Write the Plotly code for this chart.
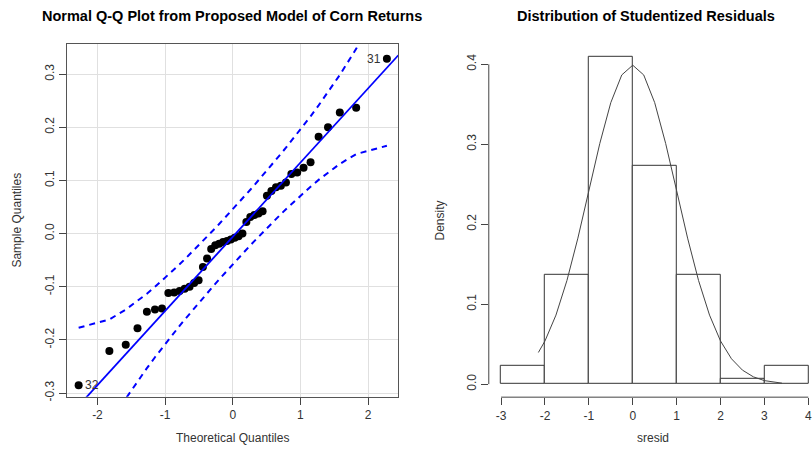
import plotly.graph_objects as go

# ---------------- data ----------------
# Q-Q plot: theoretical normal quantiles (n = 44) and sorted sample quantiles
theoretical_q = [-2.278, -1.824, -1.582, -1.408, -1.269, -1.150, -1.046, -0.952, -0.866, -0.786,
                 -0.711, -0.639, -0.571, -0.505, -0.441, -0.380, -0.319, -0.259, -0.201, -0.143,
                 -0.0855, -0.0285, 0.0285, 0.0855, 0.143, 0.201, 0.259, 0.319, 0.380, 0.441,
                 0.505, 0.571, 0.639, 0.711, 0.786, 0.866, 0.952, 1.046, 1.150, 1.269,
                 1.408, 1.582, 1.824, 2.278]
sample_q = [-0.2855, -0.221, -0.209, -0.178, -0.147, -0.143, -0.141, -0.112, -0.111, -0.108,
            -0.104, -0.100, -0.093, -0.088, -0.063, -0.047, -0.029, -0.022, -0.019, -0.016,
            -0.014, -0.011, -0.008, -0.005, 0.000, 0.022, 0.031, 0.035, 0.038, 0.042,
            0.071, 0.080, 0.087, 0.090, 0.096, 0.112, 0.115, 0.124, 0.134, 0.182,
            0.200, 0.228, 0.237, 0.329]
envelope_upper = [-0.1772, -0.1616, -0.1431, -0.1272, -0.1131, -0.1003, -0.0886, -0.0777, -0.0675, -0.0578,
                  -0.0486, -0.0395, -0.0308, -0.0223, -0.0140, -0.0059, 0.0022, 0.0101, 0.0180, 0.0259,
                  0.0339, 0.0417, 0.0497, 0.0577, 0.0659, 0.0742, 0.0825, 0.0912, 0.1001, 0.1092,
                  0.1187, 0.1286, 0.1389, 0.1500, 0.1616, 0.1743, 0.1881, 0.2034, 0.2207, 0.2413,
                  0.2660, 0.2985, 0.3476, 0.4588]
envelope_lower = [-0.4708, -0.3596, -0.3105, -0.2780, -0.2533, -0.2327, -0.2154, -0.2001, -0.1863, -0.1736,
                  -0.1620, -0.1509, -0.1406, -0.1307, -0.1212, -0.1121, -0.1032, -0.0945, -0.0862, -0.0779,
                  -0.0697, -0.0617, -0.0537, -0.0459, -0.0379, -0.0300, -0.0221, -0.0142, -0.0061, 0.0020,
                  0.0103, 0.0188, 0.0275, 0.0366, 0.0458, 0.0555, 0.0657, 0.0766, 0.0883, 0.1011,
                  0.1152, 0.1311, 0.1496, 0.1652]
qq_line_intercept = -0.006
qq_line_slope = 0.1396
point_labels = {0: "32", 43: "31"}

# Histogram of studentized residuals
bin_centers = [-2.5, -1.5, -0.5, 0.5, 1.5, 2.5, 3.5]
bin_density = [0.0227, 0.1364, 0.4091, 0.2727, 0.1364, 0.0068, 0.0227]
curve_x = [-2.15, -2.0, -1.75, -1.5, -1.25, -1.0, -0.75, -0.5, -0.25, 0.0, 0.25, 0.5,
           0.75, 1.0, 1.25, 1.5, 1.75, 2.0, 2.25, 2.5, 2.75, 3.0, 3.4]
curve_y = [0.0396, 0.0540, 0.0863, 0.1295, 0.1826, 0.2420, 0.3011, 0.3521, 0.3867, 0.3989, 0.3867, 0.3521,
           0.3011, 0.2420, 0.1826, 0.1295, 0.0863, 0.0540, 0.0317, 0.0175, 0.0091, 0.0044, 0.0012]

qq_xticks = [-2, -1, 0, 1, 2]
qq_yticks = [-0.3, -0.2, -0.1, 0.0, 0.1, 0.2, 0.3]
hist_xticks = [-3, -2, -1, 0, 1, 2, 3, 4]
hist_yticks = [0.0, 0.1, 0.2, 0.3, 0.4]

# ---------------- layout geometry ----------------
W, H = 812, 463
FONT = "Liberation Sans, Arial, sans-serif"
qq_x_range = [-2.457, 2.447]
qq_y_range = [-0.3069, 0.3571]
hist_x_range = [-3.28, 4.039]
hist_y_range = [-0.0163, 0.4244]

L_dom_x = [66.7 / W, 399.3 / W]
L_dom_y = [1 - 401 / H, 1 - 44.3 / H]
R_dom_x = [490 / W, 1.0]
R_dom_y = [1 - 401.5 / H, 1 - 45.3 / H]

fig = go.Figure()

# Q-Q points
fig.add_trace(go.Scatter(x=theoretical_q, y=sample_q, mode="markers",
                         marker=dict(color="black", size=8), xaxis="x", yaxis="y",
                         showlegend=False, hoverinfo="skip"))
# reference line
fig.add_trace(go.Scatter(x=qq_x_range,
                         y=[qq_line_intercept + qq_line_slope * v for v in qq_x_range],
                         mode="lines", line=dict(color="#0000ff", width=1.8),
                         xaxis="x", yaxis="y", showlegend=False, hoverinfo="skip"))
# envelope
for env in (envelope_upper, envelope_lower):
    fig.add_trace(go.Scatter(x=theoretical_q, y=env, mode="lines",
                             line=dict(color="#0000ff", width=2, dash="6px,5px"),
                             xaxis="x", yaxis="y", showlegend=False, hoverinfo="skip"))

# Histogram
fig.add_trace(go.Bar(x=bin_centers, y=bin_density, width=1,
                     marker=dict(color="white", line=dict(color="#333333", width=1)),
                     xaxis="x2", yaxis="y2", showlegend=False, hoverinfo="skip"))
fig.add_trace(go.Scatter(x=curve_x, y=curve_y, mode="lines",
                         line=dict(color="#444444", width=1),
                         xaxis="x2", yaxis="y2", showlegend=False, hoverinfo="skip"))

tickfont = dict(family=FONT, size=12, color="#333333")

annotations = []
for idx, lab in point_labels.items():
    right = idx > 20
    annotations.append(dict(x=theoretical_q[idx], y=sample_q[idx], xref="x", yref="y",
                            text=lab, showarrow=False,
                            xanchor="right" if right else "left",
                            xshift=-4 if right else 4,
                            font=dict(family=FONT, size=12, color="#333333")))

# titles and axis labels
annotations += [
    dict(x=233 / W, y=1 - 16 / H, xref="paper", yref="paper", showarrow=False,
         text="<b>Normal Q-Q Plot from Proposed Model of Corn Returns</b>",
         font=dict(family=FONT, size=14.5, color="black"), xanchor="center", yanchor="middle"),
    dict(x=648 / W, y=1 - 16 / H, xref="paper", yref="paper", showarrow=False,
         text="<b>Distribution of Studentized Residuals</b>",
         font=dict(family=FONT, size=14.5, color="black"), xanchor="center", yanchor="middle"),
    dict(x=233 / W, y=1 - 443 / H, xref="paper", yref="paper", showarrow=False,
         text="Theoretical Quantiles", font=dict(family=FONT, size=12, color="#333333"),
         xanchor="center", yanchor="middle"),
    dict(x=17 / W, y=1 - 222 / H, xref="paper", yref="paper", showarrow=False,
         text="Sample Quantiles", textangle=-90, font=dict(family=FONT, size=12, color="#333333"),
         xanchor="center", yanchor="middle"),
    dict(x=441 / W, y=1 - 223 / H, xref="paper", yref="paper", showarrow=False,
         text="Density", textangle=-90, font=dict(family=FONT, size=12, color="#333333"),
         xanchor="center", yanchor="middle"),
    dict(x=655 / W, y=1 - 443 / H, xref="paper", yref="paper", showarrow=False,
         text="sresid", font=dict(family=FONT, size=12, color="#333333"),
         xanchor="center", yanchor="middle"),
]

shapes = [
    # R-style axis lines for the histogram
    dict(type="line", xref="paper", yref="y2", x0=R_dom_x[0], x1=R_dom_x[0],
         y0=hist_yticks[0], y1=hist_yticks[-1], line=dict(color="#444444", width=1)),
    dict(type="line", xref="x2", yref="paper", x0=hist_xticks[0], x1=hist_xticks[-1],
         y0=R_dom_y[0], y1=R_dom_y[0], line=dict(color="#444444", width=1)),
]

fig.update_layout(
    width=W, height=H, margin=dict(l=0, r=0, t=0, b=0),
    paper_bgcolor="white", plot_bgcolor="white",
    font=dict(family=FONT),
    xaxis=dict(domain=L_dom_x, range=qq_x_range, tickvals=qq_xticks,
               ticktext=[str(v) for v in qq_xticks],
               ticks="outside", ticklen=7, tickcolor="#444444", tickfont=tickfont,
               showgrid=True, gridcolor="#e0e0e0", gridwidth=1, zeroline=False,
               showline=True, linecolor="#555555", linewidth=1, mirror=True, anchor="y"),
    yaxis=dict(domain=L_dom_y, range=qq_y_range, tickvals=qq_yticks,
               ticktext=["%.1f" % v for v in qq_yticks], tickangle=-90,
               ticks="outside", ticklen=7, tickcolor="#444444", tickfont=tickfont,
               showgrid=True, gridcolor="#e0e0e0", gridwidth=1, zeroline=False,
               showline=True, linecolor="#555555", linewidth=1, mirror=True, anchor="x"),
    xaxis2=dict(domain=R_dom_x, range=hist_x_range, tickvals=hist_xticks,
                ticktext=[str(v) for v in hist_xticks], ticklabeloverflow="allow",
                ticks="outside", ticklen=7, tickcolor="#444444", tickfont=tickfont,
                showgrid=False, zeroline=False, showline=False, anchor="y2"),
    yaxis2=dict(domain=R_dom_y, range=hist_y_range, tickvals=hist_yticks,
                ticktext=["%.1f" % v for v in hist_yticks], tickangle=-90,
                ticks="outside", ticklen=7, tickcolor="#444444", tickfont=tickfont,
                showgrid=False, zeroline=False, showline=False, anchor="x2"),
    bargap=0,
    annotations=annotations,
    shapes=shapes,
)

fig.write_html("out.html")
